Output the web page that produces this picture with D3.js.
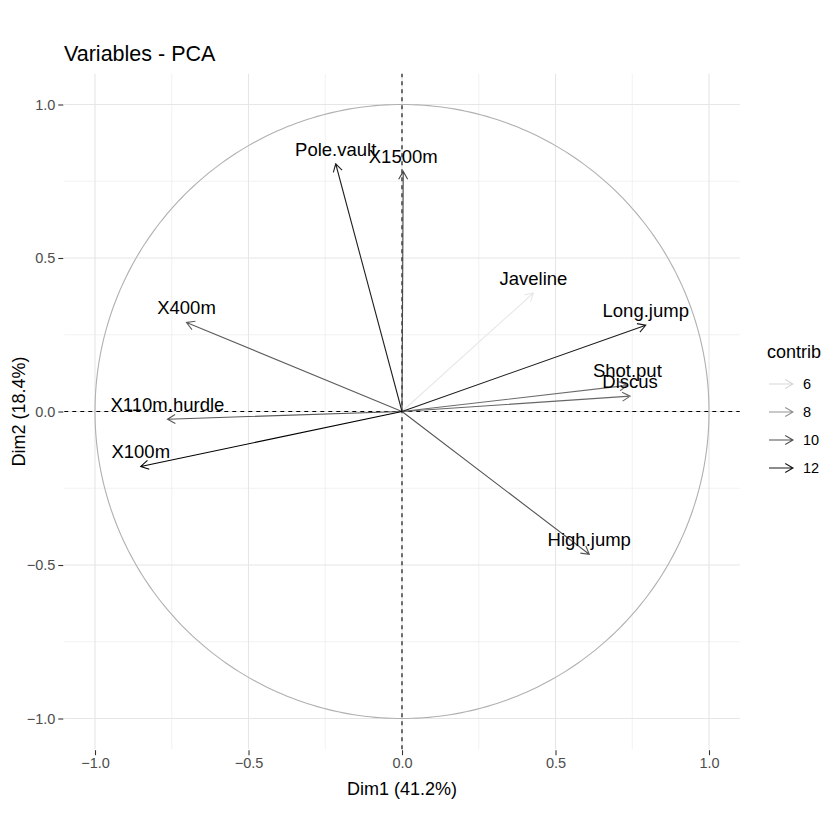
<!DOCTYPE html>
<html><head><meta charset="utf-8">
<script src="https://cdn.jsdelivr.net/npm/d3@7"></script>
<style>body{margin:0;background:#fff}svg{display:block;font-family:"Liberation Sans",Arial,sans-serif}</style>
</head><body>
<svg id="c" width="840" height="840"></svg>
<script>
const variables = ["X100m","Long.jump","Shot.put","High.jump","X400m","X110m.hurdle","Discus","Pole.vault","Javeline","X1500m"];
const dim1 = [-0.851, 0.794, 0.734, 0.610, -0.702, -0.764, 0.743, -0.216, 0.428, 0.004];
const dim2 = [-0.179, 0.281, 0.085, -0.465, 0.290, -0.025, 0.050, 0.807, 0.386, 0.782];
const contrib = [12.67, 11.90, 9.15, 9.87, 9.67, 9.78, 9.29, 11.71, 5.57, 10.34];
const majorTicks = [-1.0, -0.5, 0.0, 0.5, 1.0];
const minorTicks = [-0.75, -0.25, 0.25, 0.75];
const legendValues = [6, 8, 10, 12];
const titleText = "Variables - PCA";
const xTitle = "Dim1 (41.2%)";
const yTitle = "Dim2 (18.4%)";
const legendTitle = "contrib";

const svg = d3.select("#c");
const x = d3.scaleLinear().domain([-1.1, 1.1]).range([64.3, 739.7]);
const y = d3.scaleLinear().domain([-1.1, 1.1]).range([749.2, 73.8]);
const col = d3.scaleLinear().domain([d3.min(contrib), d3.max(contrib)])
  .range(["#e8e8e8", "#000000"]).interpolate(d3.interpolateLab).clamp(true);

const [x0, x1] = x.range();
const [y0, y1] = y.range();
const g = svg.append("g");

// grid
minorTicks.forEach(t => {
  g.append("line").attr("x1", x(t)).attr("x2", x(t)).attr("y1", y0).attr("y2", y1).attr("stroke", "#ededed").attr("stroke-width", 0.7);
  g.append("line").attr("y1", y(t)).attr("y2", y(t)).attr("x1", x0).attr("x2", x1).attr("stroke", "#ededed").attr("stroke-width", 0.7);
});
majorTicks.forEach(t => {
  g.append("line").attr("x1", x(t)).attr("x2", x(t)).attr("y1", y0).attr("y2", y1).attr("stroke", "#e6e6e6").attr("stroke-width", 1.1);
  g.append("line").attr("y1", y(t)).attr("y2", y(t)).attr("x1", x0).attr("x2", x1).attr("stroke", "#e6e6e6").attr("stroke-width", 1.1);
});

// axes
const xAxis = d3.axisBottom(x).tickValues(majorTicks).tickFormat(d3.format(".1f")).tickSize(5).tickPadding(3);
const yAxis = d3.axisLeft(y).tickValues(majorTicks).tickFormat(d3.format(".1f")).tickSize(5).tickPadding(3);
const gx = svg.append("g").attr("transform", `translate(0,${y0 + 1})`).call(xAxis);
const gy = svg.append("g").attr("transform", `translate(${x0 - 1},0)`).call(yAxis);
[gx, gy].forEach(a => {
  a.select(".domain").remove();
  a.selectAll(".tick line").attr("stroke", "#333").attr("stroke-width", 1.1);
  a.selectAll(".tick text").attr("fill", "#4d4d4d").style("font-size", "14.5px").style("font-family", "Liberation Sans, Arial, sans-serif");
});

// circle
const circ = d3.range(0, 361, 1).map(a => [Math.cos(a * Math.PI / 180), Math.sin(a * Math.PI / 180)]);
svg.append("path").datum(circ)
  .attr("d", d3.line().x(d => x(d[0])).y(d => y(d[1])))
  .attr("fill", "none").attr("stroke", "#b0b0b0").attr("stroke-width", 1.1);

// dashed zero lines
svg.append("line").attr("x1", x(0)).attr("x2", x(0)).attr("y1", y0).attr("y2", y1)
  .attr("stroke", "#000").attr("stroke-width", 1.1).attr("stroke-dasharray", "4,4");
svg.append("line").attr("y1", y(0)).attr("y2", y(0)).attr("x1", x0).attr("x2", x1)
  .attr("stroke", "#000").attr("stroke-width", 1.1).attr("stroke-dasharray", "4,4");

// arrows
function arrowPath(xa, ya, xb, yb, len) {
  const ang = Math.atan2(yb - ya, xb - xa);
  const a1 = ang + Math.PI - Math.PI / 6, a2 = ang + Math.PI + Math.PI / 6;
  return `M${xa},${ya}L${xb},${yb}M${xb + len * Math.cos(a1)},${yb + len * Math.sin(a1)}L${xb},${yb}L${xb + len * Math.cos(a2)},${yb + len * Math.sin(a2)}`;
}
const data = variables.map((v, i) => ({ v, d1: dim1[i], d2: dim2[i], c: contrib[i] }));
const order = data.slice().sort((a, b) => a.c - b.c);
svg.append("g").selectAll("path").data(order).join("path")
  .attr("d", d => arrowPath(x(0), y(0), x(d.d1), y(d.d2), 9))
  .attr("fill", "none").attr("stroke", d => col(d.c)).attr("stroke-width", 1.1);

svg.append("g").selectAll("text").data(data).join("text")
  .attr("x", d => x(d.d1)).attr("y", d => y(d.d2) - 8)
  .attr("text-anchor", "middle").attr("fill", "#000").style("font-size", "18.5px")
  .text(d => d.v);

// titles
svg.append("text").attr("x", 64).attr("y", 61).style("font-size", "21.5px").attr("fill", "#000").text(titleText);
svg.append("text").attr("x", (x0 + x1) / 2).attr("y", 795).attr("text-anchor", "middle").style("font-size", "18px").attr("fill", "#000").text(xTitle);
svg.append("text").attr("transform", `translate(25,${(y0 + y1) / 2}) rotate(-90)`).attr("text-anchor", "middle").style("font-size", "18px").attr("fill", "#000").text(yTitle);

// legend
const lg = svg.append("g");
lg.append("text").attr("x", 767).attr("y", 358).style("font-size", "18px").attr("fill", "#000").text(legendTitle);
legendValues.forEach((v, i) => {
  const yy = 384 + i * 28;
  lg.append("path").attr("d", arrowPath(769, yy, 793, yy, 9)).attr("fill", "none").attr("stroke", col(v)).attr("stroke-width", 1.1);
  lg.append("text").attr("x", 803).attr("y", yy + 5).style("font-size", "14.5px").attr("fill", "#000").text(v);
});
</script>
</body></html>
